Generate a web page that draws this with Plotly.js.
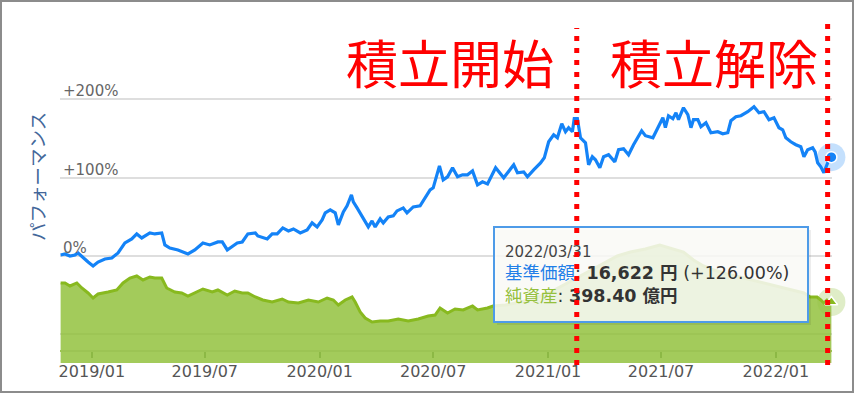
<!DOCTYPE html>
<html><head><meta charset="utf-8">
<script src="https://cdn.plot.ly/plotly-3.0.1.min.js"></script>
<style>
html,body{margin:0;padding:0;background:#fff;}
#wrap{position:relative;width:856px;height:394px;overflow:hidden;}
#chart{width:856px;height:394px;}
#frame{position:absolute;left:0;top:0;width:850px;height:389px;border:2px solid #8c8c8c;pointer-events:none;}
</style></head><body>
<div id="wrap"><div id="chart"></div><div id="frame"></div></div>
<script>
// 基準価額 performance (%)
const navDates = ['2018-11-12','2018-11-19','2018-11-27','2018-12-05','2018-12-10','2018-12-18','2018-12-26','2019-01-03','2019-01-11','2019-01-22',
'2019-02-02','2019-02-12','2019-02-23','2019-03-06','2019-03-14','2019-03-22','2019-04-04','2019-04-12','2019-04-23','2019-04-28',
'2019-05-06','2019-05-19','2019-06-04','2019-06-15','2019-06-28','2019-07-09','2019-07-22','2019-07-29','2019-08-06','2019-08-22',
'2019-08-30','2019-09-08','2019-09-20','2019-09-24','2019-10-09','2019-10-17','2019-10-25','2019-11-03','2019-11-12','2019-11-20',
'2019-12-01','2019-12-12','2019-12-20','2019-12-28','2020-01-05','2020-01-10','2020-01-18','2020-01-26','2020-01-31','2020-02-08',
'2020-02-14','2020-02-21','2020-02-24','2020-03-01','2020-03-06','2020-03-14','2020-03-19','2020-03-25','2020-03-30','2020-04-07',
'2020-04-12','2020-04-20','2020-04-28','2020-05-04','2020-05-14','2020-05-20','2020-05-30','2020-06-10','2020-06-18','2020-06-26',
'2020-07-01','2020-07-06','2020-07-11','2020-07-17','2020-07-24','2020-08-01','2020-08-09','2020-08-17','2020-08-25','2020-09-02',
'2020-09-10','2020-09-18','2020-09-26','2020-10-09','2020-10-22','2020-11-07','2020-11-13','2020-11-23','2020-11-29','2020-12-09',
'2020-12-20','2020-12-26','2021-01-02','2021-01-10','2021-01-16','2021-01-23','2021-01-29','2021-02-03','2021-02-09','2021-02-12',
'2021-02-17','2021-02-22','2021-03-02','2021-03-07','2021-03-13','2021-03-18','2021-03-25','2021-03-31','2021-04-08','2021-04-18',
'2021-04-24','2021-05-02','2021-05-10','2021-05-18','2021-05-25','2021-05-31','2021-06-06','2021-06-18','2021-06-26','2021-07-04',
'2021-07-08','2021-07-13','2021-07-20','2021-07-25','2021-07-29','2021-08-06','2021-08-13','2021-08-18','2021-08-22','2021-08-29',
'2021-09-03','2021-09-11','2021-09-19','2021-09-30','2021-10-08','2021-10-16','2021-10-21','2021-10-29','2021-11-06','2021-11-17',
'2021-11-27','2021-12-05','2021-12-13','2021-12-21','2021-12-29','2022-01-06','2022-01-12','2022-01-17','2022-01-25','2022-02-02',
'2022-02-10','2022-02-15','2022-02-21','2022-03-01','2022-03-05','2022-03-09','2022-03-14','2022-03-19','2022-03-22','2022-03-27',
'2022-03-31'];
const navPerf = [1.3,2.6,0.0,1.3,3.8,-2.6,-7.7,-12.8,-7.7,-3.8,
-2.6,3.8,16.6,21.7,28.1,23.0,29.4,28.1,29.4,14.1,
10.2,7.7,2.6,7.7,16.6,14.1,17.9,17.9,7.7,16.6,
17.9,28.1,29.4,25.6,21.7,28.1,28.1,35.8,31.9,34.5,
29.4,33.2,42.2,37.1,46.0,55.0,58.8,55.0,39.6,56.2,
63.9,78.0,69.0,61.3,55.0,43.5,37.1,44.7,37.1,47.3,
42.2,49.8,51.1,57.5,61.3,55.0,62.6,63.9,74.1,84.3,
86.9,101.0,115.0,97.1,101.0,112.5,101.0,103.5,103.5,108.6,
90.7,94.6,92.0,112.5,99.7,116.3,106.1,107.3,101.0,109.9,
118.8,125.2,145.7,154.6,150.8,168.7,158.5,163.6,158.5,175.1,
175.1,150.8,144.4,116.3,126.5,122.7,112.5,126.5,129.1,120.1,
135.5,136.7,129.1,141.9,150.8,159.7,153.4,150.8,163.6,176.4,
163.6,178.9,175.1,182.7,173.8,189.1,180.2,163.6,173.8,173.8,
164.9,170.0,157.2,158.5,155.9,157.2,172.5,177.6,178.9,184.0,
190.4,182.7,184.0,173.8,176.4,163.6,161.0,150.8,145.7,141.9,
139.3,126.5,135.5,138.0,132.9,118.8,113.7,106.1,112.5,122.7,
126.0];

// 純資産 (億円)
const assetDates = ['2018-11-12','2018-11-19','2018-11-27','2018-12-08','2018-12-16','2018-12-26','2019-01-03','2019-01-11','2019-01-27','2019-02-10',
'2019-02-20','2019-03-03','2019-03-14','2019-03-24','2019-04-04','2019-04-12','2019-04-23','2019-05-01','2019-05-14','2019-05-25',
'2019-06-04','2019-06-15','2019-06-28','2019-07-13','2019-07-22','2019-08-06','2019-08-18','2019-08-30','2019-09-08','2019-09-20',
'2019-10-02','2019-10-17','2019-11-02','2019-11-12','2019-11-28','2019-12-14','2019-12-30','2020-01-13','2020-01-23','2020-01-31',
'2020-02-11','2020-02-22','2020-02-27','2020-03-06','2020-03-14','2020-03-25','2020-04-07','2020-04-20','2020-05-06','2020-05-22',
'2020-06-07','2020-06-23','2020-07-04','2020-07-12','2020-07-24','2020-08-05','2020-08-18','2020-09-02','2020-09-10','2020-09-26',
'2020-10-05','2020-10-25','2020-11-18','2020-12-12','2021-01-05','2021-01-29','2021-02-22','2021-03-18','2021-04-03','2021-04-22',
'2021-05-13','2021-06-06','2021-06-29','2021-07-17','2021-08-06','2021-08-22','2021-09-07','2021-09-24','2021-10-14','2021-11-04',
'2021-11-23','2021-12-13','2021-12-29','2022-01-14','2022-01-30','2022-02-15','2022-02-25','2022-03-08','2022-03-14','2022-03-19',
'2022-03-24','2022-03-31'];
const assetValues = [522.5,522.5,502.9,522.5,489.8,457.2,424.5,450.6,463.7,476.8,
522.5,555.1,568.2,542.1,561.7,555.1,555.1,489.8,463.7,457.2,
437.6,457.2,483.3,463.7,476.8,444.1,470.2,457.2,457.2,431.0,
411.5,398.4,418.0,398.4,391.9,411.5,398.4,424.5,411.5,378.8,
411.5,431.0,398.4,333.1,293.9,267.8,274.3,274.3,287.4,274.3,
287.4,307.0,313.5,359.2,326.6,352.7,346.1,372.3,346.1,359.2,
372.3,378.8,398.4,424.5,463.7,516.0,568.0,620.0,660.0,699.0,
725.0,745.0,771.0,751.0,725.0,673.0,634.0,607.0,581.0,561.7,
542.1,522.5,509.0,489.8,476.8,457.2,431.0,431.0,411.5,391.9,
411.5,398.4];

const navPrice = 16622;          // 基準価額 (円) at last date
const xTickVals = ['2019-01-01','2019-07-01','2020-01-01','2020-07-01','2021-01-01','2021-07-01','2022-01-01'];
const xTickText = ['2019/01','2019/07','2020/01','2020/07','2021/01','2021/07','2022/01'];
const yTickVals = [-100, 0, 100, 200, 300];
const yTickText = ['', '0%', '+100%', '+200%', ''];
const eventDates = ['2021-02-16', '2022-03-25'];
const eventLabels = ['積立開始', '積立解除'];

const W = 856, H = 394, L = 60, R = 24, T = 20, B = 31;
const pw = W - L - R, ph = H - T - B;
const px = x => (x - L) / pw;
const py = y => (H - B - y) / ph;

const BLUE = '#1483f7', GREEN_LINE = '#88b91f';
const FONT = 'DejaVu Sans, Noto Sans CJK JP, sans-serif';
const JP = 'Noto Sans CJK JP, sans-serif';
const Y_RANGE = [-136.5, 301];

const lastD = navDates[navDates.length - 1];
const lastP = navPerf[navPerf.length - 1];
const lastAD = assetDates[assetDates.length - 1];
const lastA = assetValues[assetValues.length - 1];

const traces = [
  {x: assetDates, y: assetValues, yaxis: 'y2', type: 'scatter', mode: 'lines',
   line: {color: GREEN_LINE, width: 3}, fill: 'tozeroy', fillcolor: 'rgba(140,190,50,0.8)', hoverinfo: 'skip'},
  {x: navDates, y: navPerf, type: 'scatter', mode: 'lines',
   line: {color: BLUE, width: 3.2}, hoverinfo: 'skip'},
  {x: [lastD], y: [lastP], type: 'scatter', mode: 'markers', cliponaxis: false,
   marker: {size: 28, color: 'rgba(20,131,247,0.25)'}, hoverinfo: 'skip'},
  {x: [lastD], y: [lastP], type: 'scatter', mode: 'markers', cliponaxis: false,
   marker: {size: 11, color: BLUE, line: {color: '#fff', width: 1.5}}, hoverinfo: 'skip'},
  {x: [lastAD], y: [lastA], yaxis: 'y2', type: 'scatter', mode: 'markers', cliponaxis: false,
   marker: {size: 28, color: 'rgba(150,195,70,0.3)'}, hoverinfo: 'skip'},
  {x: [lastAD], y: [lastA], yaxis: 'y2', type: 'scatter', mode: 'markers', cliponaxis: false,
   marker: {size: 11, symbol: 'triangle-up', color: GREEN_LINE, line: {color: '#fff', width: 1.5}}, hoverinfo: 'skip'},
  // carrier for the performance tick labels (own subplot so x ticks are not hidden)
  {x: [lastD], y: [lastP], xaxis: 'x2', yaxis: 'y3', type: 'scatter', mode: 'markers',
   marker: {opacity: 0}, hoverinfo: 'skip'}
];

const tipText =
  '<span style="font-size:15px;color:#444">' + lastD.replace(/-/g, '/') + '</span><br>' +
  '<span style="color:#1f7fe8">基準価額</span>: <b>' + navPrice.toLocaleString('en-US') + ' 円</b> (+' + lastP.toFixed(2) + '%)<br>' +
  '<span style="color:#95c03c">純資産</span>: <b>' + lastA.toFixed(2) + ' 億円</b>';

const shapes = [
  {type: 'rect', xref: 'paper', yref: 'paper', x0: px(497), x1: px(811), y0: py(325), y1: py(230),
   fillcolor: 'rgba(0,0,0,0.07)', line: {width: 0}, layer: 'above'},
  {type: 'rect', xref: 'paper', yref: 'paper', x0: px(494), x1: px(808), y0: py(322), y1: py(227),
   fillcolor: 'rgba(251,252,248,0.86)', line: {color: '#4e9be8', width: 2}, layer: 'above'},
  {type: 'rect', xref: 'paper', yref: 'paper', x0: px(493), x1: px(808), y0: py(322), y1: py(230),
   fillcolor: 'rgba(0,0,0,0)', line: {width: 0}, layer: 'above',
   label: {text: tipText, textposition: 'top left', padding: 9,
           font: {family: FONT, size: 17.5, color: '#333'}}}
];
eventDates.forEach((d, i) => {
  shapes.push({type: 'line', xref: 'x', yref: 'paper', x0: d, x1: d,
    y0: py(365), y1: py(i === 0 ? 28 : 23), layer: 'above',
    line: {color: '#ff0000', width: 5, dash: '5px,7px'}});
});

const annotations = [
  {text: 'パフォーマンス', xref: 'paper', yref: 'paper', x: px(37), y: py(177), textangle: -90,
   xanchor: 'center', yanchor: 'middle',
   showarrow: false, font: {family: JP, size: 18.5, color: '#43679a'}},
  {text: eventLabels[0], xref: 'paper', yref: 'paper', x: px(450), y: py(61), showarrow: false,
   xanchor: 'center', yanchor: 'middle',
   font: {family: JP, size: 52, color: '#ff0000'}},
  {text: eventLabels[1], xref: 'paper', yref: 'paper', x: px(713.5), y: py(61), showarrow: false,
   xanchor: 'center', yanchor: 'middle',
   font: {family: JP, size: 52, color: '#ff0000'}}
];

const layout = {
  width: W, height: H,
  margin: {l: L, r: R, t: T, b: B, pad: 0},
  paper_bgcolor: '#fff', plot_bgcolor: '#fff',
  showlegend: false,
  xaxis: {type: 'date', range: ['2018-11-11', '2022-04-01'], anchor: 'free', position: py(350.5),
    showgrid: false, zeroline: false, showline: true, linecolor: '#9cc454', linewidth: 2,
    ticks: 'outside', ticklen: 6, tickwidth: 2, tickcolor: '#8cb845',
    tickmode: 'array', tickvals: xTickVals, ticktext: xTickText,
    ticklabelstandoff: 0, ticklabeloverflow: 'allow',
    tickfont: {family: FONT, size: 16, color: '#555'}},
  xaxis2: {type: 'date', overlaying: 'x', anchor: 'y3', range: ['2018-11-11', '2022-04-01'],
    visible: false, showgrid: false, zeroline: false},
  yaxis: {range: Y_RANGE, tickvals: yTickVals, showticklabels: false,
    showgrid: true, gridcolor: '#dedede', gridwidth: 2, zeroline: false, showline: false, ticks: ''},
  yaxis2: {overlaying: 'y', range: [0, 2240], visible: false, showgrid: false, zeroline: false},
  yaxis3: {overlaying: 'y', anchor: 'x2', side: 'left', range: Y_RANGE, tickvals: yTickVals, ticktext: yTickText,
    showgrid: false, zeroline: false, showline: false,
    ticks: '', ticklabelposition: 'inside', ticklabelshift: -8,
    tickfont: {family: FONT, size: 15, color: '#666'}},
  shapes: shapes,
  annotations: annotations
};

Plotly.newPlot('chart', traces, layout, {staticPlot: true, displayModeBar: false});
</script>
</body></html>
